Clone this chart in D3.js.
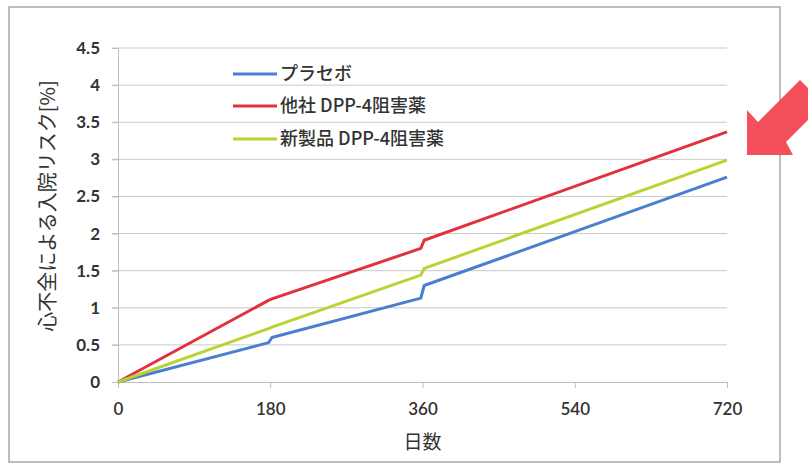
<!DOCTYPE html>
<html><head><meta charset="utf-8">
<script src="https://cdn.jsdelivr.net/npm/d3@7"></script>
<style>
html,body{margin:0;padding:0;background:#fff;}
svg{display:block;}
</style></head>
<body>
<svg id="c" width="808" height="466"></svg>
<script>
// ---- data ----
const days = [0, 178, 182, 358, 362, 720];
const placebo = [0, 0.53, 0.60, 1.13, 1.30, 2.76];
const otherDPP4 = [0, 1.10, 1.12, 1.80, 1.91, 3.37];
const newDPP4 = [0, 0.72, 0.74, 1.44, 1.53, 2.99];
const seriesNames = ["プラセボ", "他社 DPP-4阻害薬", "新製品 DPP-4阻害薬"];
const seriesColors = ["#4a7fcf", "#e2303f", "#b9d332"];
const xTicks = [0, 180, 360, 540, 720];
const yTicks = [0, 0.5, 1, 1.5, 2, 2.5, 3, 3.5, 4, 4.5];
const yTickLabels = ["0", "0.5", "1", "1.5", "2", "2.5", "3", "3.5", "4", "4.5"];
const xTitle = "日数";
const yTitle = "心不全による入院リスク[%]";

const svg = d3.select("#c");
const x = d3.scaleLinear().domain([0, 720]).range([118, 727]);
const y = d3.scaleLinear().domain([0, 4.5]).range([382, 48]);
const jp = "'Noto Sans CJK JP','Noto Sans',sans-serif";
const num = "Lato,'Open Sans',sans-serif";

// frame
svg.append("rect").attr("x", 9).attr("y", 7).attr("width", 771).attr("height", 455)
  .attr("fill", "none").attr("stroke", "#a8a8a8").attr("stroke-width", 1.5);

// gridlines
svg.append("g").selectAll("line").data(yTicks.slice(1)).join("line")
  .attr("x1", 112).attr("x2", x(720)).attr("y1", d => y(d)).attr("y2", d => y(d))
  .attr("stroke", "#c8c8c8").attr("stroke-width", 1);

// y axis
const yAxis = d3.axisLeft(y).tickValues(yTicks).tickSize(6).tickSizeOuter(0)
  .tickFormat((d, i) => yTickLabels[i]);
const gy = svg.append("g").attr("transform", `translate(${x(0)},0)`).call(yAxis);
gy.select(".domain").attr("stroke", "#bdbdbd");
gy.selectAll(".tick line").attr("stroke", "#bdbdbd");
gy.selectAll(".tick text").attr("x", -18).attr("font-family", num).attr("font-size", 17)
  .attr("font-weight", 700).attr("fill", "#333");

// x axis
const xAxis = d3.axisBottom(x).tickValues(xTicks).tickSize(6).tickSizeOuter(0).tickFormat(d3.format("d"));
const gx = svg.append("g").attr("transform", `translate(0,${y(0)})`).call(xAxis);
gx.select(".domain").attr("stroke", "#bdbdbd");
gx.selectAll(".tick line").attr("stroke", "#bdbdbd");
gx.selectAll(".tick text").attr("y", 21).attr("font-family", num).attr("font-size", 17)
  .attr("font-weight", 600).attr("fill", "#333");

// titles
svg.append("text").attr("x", x(360)).attr("y", 449).attr("text-anchor", "middle")
  .attr("font-family", jp).attr("font-size", 19).attr("fill", "#333").text(xTitle);
svg.append("text").attr("transform", `translate(55,206) rotate(-90)`).attr("text-anchor", "middle")
  .attr("font-family", jp).attr("font-size", 20).attr("fill", "#333").text(yTitle);

// lines
const allSeries = [placebo, otherDPP4, newDPP4];
const line = d3.line().x(d => x(d[0])).y(d => y(d[1]));
svg.append("g").selectAll("path").data(allSeries).join("path")
  .attr("d", s => line(days.map((d, i) => [d, s[i]])))
  .attr("fill", "none").attr("stroke", (d, i) => seriesColors[i])
  .attr("stroke-width", 3).attr("stroke-linejoin", "round");

// legend
const legRows = [74, 106, 139];
const lg = svg.append("g").selectAll("g").data(seriesNames).join("g")
  .attr("transform", (d, i) => `translate(0,${legRows[i]})`);
lg.append("line").attr("x1", 233).attr("x2", 277).attr("y1", 0).attr("y2", 0)
  .attr("stroke", (d, i) => seriesColors[i]).attr("stroke-width", 3);
lg.append("text").attr("x", 280).attr("y", 0).attr("dy", "0.35em")
  .attr("font-family", jp).attr("font-size", 18).attr("font-weight", 500).attr("fill", "#333").text(d => d);

// arrow annotation
svg.append("polygon")
  .attr("points", [[747,155],[747,110],[758,122],[800,80],[824,104],[786,142],[793,155]].map(p => p.join(",")).join(" "))
  .attr("fill", "#f4505b");
</script>
</body></html>
